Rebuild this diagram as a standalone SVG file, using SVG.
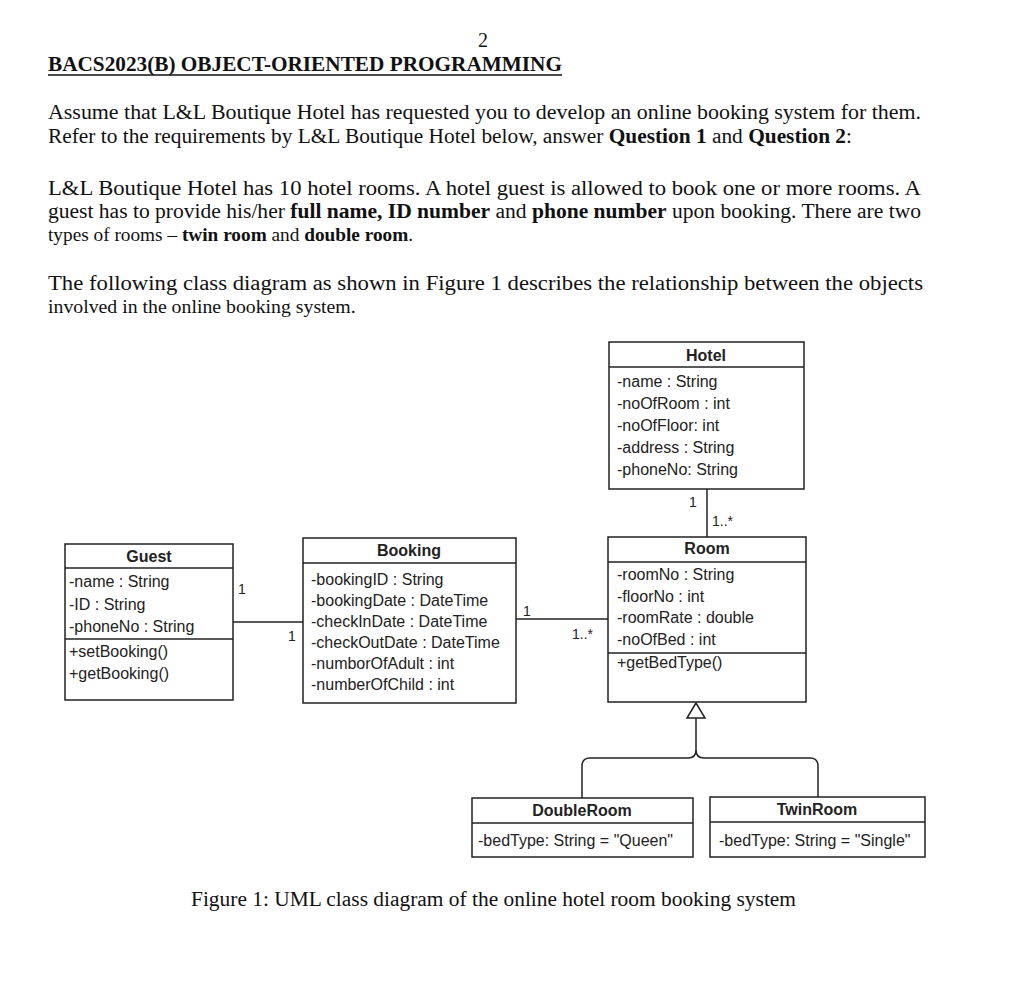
<svg xmlns="http://www.w3.org/2000/svg" width="1024" height="995" viewBox="0 0 1024 995">
<style>
.body{font-family:"Liberation Serif","Times New Roman",serif;font-size:20px;fill:#111}
.b{font-weight:bold}
.box{fill:#fff;stroke:#222;stroke-width:1.5}
.sep{stroke:#222;stroke-width:1.5}
.t{font-family:"Liberation Sans",Arial,sans-serif;font-size:16px;fill:#222}
.h{font-family:"Liberation Sans",Arial,sans-serif;font-size:16px;font-weight:bold;fill:#222;text-anchor:middle}
.m{font-family:"Liberation Sans",Arial,sans-serif;font-size:14px;fill:#222}
.ln{fill:none;stroke:#222;stroke-width:1.5}
</style>
<rect width="1024" height="995" fill="#fff"/>
<text class="body" x="483" y="47" text-anchor="middle">2</text>
<text class="body b" x="48" y="71" textLength="514" lengthAdjust="spacingAndGlyphs">BACS2023(B) OBJECT-ORIENTED PROGRAMMING</text>
<line x1="48" y1="75" x2="562" y2="75" stroke="#111" stroke-width="1.5"/>
<text class="body" x="48" y="119" textLength="873" lengthAdjust="spacingAndGlyphs">Assume that L&amp;L Boutique Hotel has requested you to develop an online booking system for them.</text>
<text class="body" x="48" y="143" textLength="804" lengthAdjust="spacingAndGlyphs">Refer to the requirements by L&amp;L Boutique Hotel below, answer <tspan class="b">Question 1</tspan> and <tspan class="b">Question 2</tspan>:</text>
<text class="body" x="48" y="195" textLength="873" lengthAdjust="spacingAndGlyphs">L&amp;L Boutique Hotel has 10 hotel rooms. A hotel guest is allowed to book one or more rooms. A</text>
<text class="body" x="48" y="218" textLength="873" lengthAdjust="spacingAndGlyphs">guest has to provide his/her <tspan class="b">full name, ID number</tspan> and <tspan class="b">phone number</tspan> upon booking. There are two</text>
<text class="body" x="48" y="241" style="font-size:19.3px">types of rooms – <tspan class="b">twin room</tspan> and <tspan class="b">double room</tspan>.</text>
<text class="body" x="48" y="290" textLength="875" lengthAdjust="spacingAndGlyphs">The following class diagram as shown in Figure 1 describes the relationship between the objects</text>
<text class="body" x="48" y="313" style="font-size:19.8px">involved in the online booking system.</text>

<g id="connectors">
<line class="ln" x1="233" y1="622" x2="303" y2="622"/>
<line class="ln" x1="516" y1="619" x2="608" y2="619"/>
<line class="ln" x1="707" y1="489" x2="707" y2="537"/>
<path class="ln" d="M696,718 V750 Q696,758 688,758 H590 Q582,758 582,766 V798"/>
<path class="ln" d="M696,750 Q696,758 704,758 H810 Q818,758 818,766 V797"/>
<polygon points="696,703 687,718 705,718" fill="#fff" stroke="#222" stroke-width="1.5"/>
<text class="m" x="238" y="594">1</text>
<text class="m" x="288" y="641">1</text>
<text class="m" x="523" y="616">1</text>
<text class="m" x="572" y="639">1..*</text>
<text class="m" x="689" y="507">1</text>
<text class="m" x="712" y="526">1..*</text>
</g>

<g id="hotel">
<rect class="box" x="609" y="342" width="195" height="147"/>
<line class="sep" x1="609" y1="367" x2="804" y2="367"/>
<text class="h" x="706" y="361">Hotel</text>
<text class="t" x="617" y="387">-name : String</text>
<text class="t" x="617" y="409">-noOfRoom : int</text>
<text class="t" x="617" y="431">-noOfFloor: int</text>
<text class="t" x="617" y="453">-address :  String</text>
<text class="t" x="617" y="475">-phoneNo: String</text>
</g>

<g id="guest">
<rect class="box" x="65" y="544" width="168" height="156"/>
<line class="sep" x1="65" y1="568" x2="233" y2="568"/>
<line class="sep" x1="65" y1="639" x2="233" y2="639"/>
<text class="h" x="149" y="562">Guest</text>
<text class="t" x="69" y="587">-name : String</text>
<text class="t" x="69" y="610">-ID : String</text>
<text class="t" x="69" y="632">-phoneNo : String</text>
<text class="t" x="69" y="657">+setBooking()</text>
<text class="t" x="69" y="679">+getBooking()</text>
</g>

<g id="booking">
<rect class="box" x="303" y="538" width="213" height="165"/>
<line class="sep" x1="303" y1="563" x2="516" y2="563"/>
<text class="h" x="409" y="556">Booking</text>
<text class="t" x="311" y="585">-bookingID : String</text>
<text class="t" x="311" y="606">-bookingDate : DateTime</text>
<text class="t" x="311" y="627">-checkInDate : DateTime</text>
<text class="t" x="311" y="648">-checkOutDate : DateTime</text>
<text class="t" x="311" y="669">-numborOfAdult : int</text>
<text class="t" x="311" y="690">-numberOfChild : int</text>
</g>

<g id="room">
<rect class="box" x="608" y="537" width="198" height="165"/>
<line class="sep" x1="608" y1="562" x2="806" y2="562"/>
<line class="sep" x1="608" y1="653" x2="806" y2="653"/>
<text class="h" x="707" y="554">Room</text>
<text class="t" x="617" y="580">-roomNo : String</text>
<text class="t" x="617" y="602">-floorNo : int</text>
<text class="t" x="617" y="623">-roomRate : double</text>
<text class="t" x="617" y="645">-noOfBed : int</text>
<text class="t" x="617" y="668">+getBedType()</text>
</g>

<g id="doubleroom">
<rect class="box" x="472" y="798" width="221" height="59"/>
<line class="sep" x1="472" y1="823" x2="693" y2="823"/>
<text class="h" x="582" y="816">DoubleRoom</text>
<text class="t" x="478" y="846">-bedType: String = "Queen"</text>
</g>

<g id="twinroom">
<rect class="box" x="710" y="797" width="215" height="60"/>
<line class="sep" x1="710" y1="822" x2="925" y2="822"/>
<text class="h" x="817" y="815">TwinRoom</text>
<text class="t" x="719" y="846">-bedType: String = "Single"</text>
</g>

<text class="body" x="191" y="906" textLength="605" lengthAdjust="spacingAndGlyphs">Figure 1: UML class diagram of the online hotel room booking system</text>
</svg>
